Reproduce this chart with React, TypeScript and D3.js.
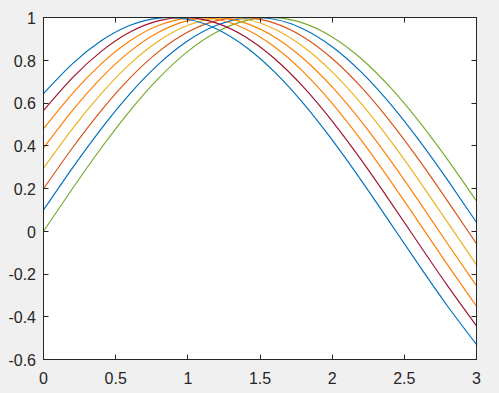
import React from "react";
import * as d3 from "d3";

const xValues = [0, 0.2, 0.4, 0.6, 0.8, 1.0, 1.2, 1.4, 1.6, 1.8, 2.0, 2.2, 2.4, 2.6, 2.8, 3.0];

const series0 = [0, 0.1987, 0.3894, 0.5646, 0.7174, 0.8415, 0.932, 0.9854, 0.9996, 0.9738, 0.9093, 0.8085, 0.6755, 0.5155, 0.335, 0.1411];
const series1 = [0.0998, 0.2955, 0.4794, 0.6442, 0.7833, 0.8912, 0.9636, 0.9975, 0.9917, 0.9463, 0.8632, 0.7457, 0.5985, 0.4274, 0.2392, 0.0416];
const series2 = [0.1987, 0.3894, 0.5646, 0.7174, 0.8415, 0.932, 0.9854, 0.9996, 0.9738, 0.9093, 0.8085, 0.6755, 0.5155, 0.335, 0.1411, -0.0584];
const series3 = [0.2955, 0.4794, 0.6442, 0.7833, 0.8912, 0.9636, 0.9975, 0.9917, 0.9463, 0.8632, 0.7457, 0.5985, 0.4274, 0.2392, 0.0416, -0.1577];
const series4 = [0.3894, 0.5646, 0.7174, 0.8415, 0.932, 0.9854, 0.9996, 0.9738, 0.9093, 0.8085, 0.6755, 0.5155, 0.335, 0.1411, -0.0584, -0.2555];
const series5 = [0.4794, 0.6442, 0.7833, 0.8912, 0.9636, 0.9975, 0.9917, 0.9463, 0.8632, 0.7457, 0.5985, 0.4274, 0.2392, 0.0416, -0.1577, -0.3508];
const series6 = [0.5646, 0.7174, 0.8415, 0.932, 0.9854, 0.9996, 0.9738, 0.9093, 0.8085, 0.6755, 0.5155, 0.335, 0.1411, -0.0584, -0.2555, -0.4425];
const series7 = [0.6442, 0.7833, 0.8912, 0.9636, 0.9975, 0.9917, 0.9463, 0.8632, 0.7457, 0.5985, 0.4274, 0.2392, 0.0416, -0.1577, -0.3508, -0.5298];

const allSeries = [series0, series1, series2, series3, series4, series5, series6, series7];
const seriesColors = ["#77AC30", "#0072BD", "#D95319", "#EDB120", "#FF8000", "#FF8000", "#A2142F", "#0072BD"];

const xTicks = [0, 0.5, 1, 1.5, 2, 2.5, 3];
const xTickLabels = ["0", "0.5", "1", "1.5", "2", "2.5", "3"];
const yTicks = [-0.6, -0.4, -0.2, 0, 0.2, 0.4, 0.6, 0.8, 1];
const yTickLabels = ["-0.6", "-0.4", "-0.2", "0", "0.2", "0.4", "0.6", "0.8", "1"];

const W = 499;
const H = 393;
const L = 43.5;
const R = 476.5;
const T = 17.5;
const B = 359.5;
const axisColor = "#262626";
const font = "Arial, 'Liberation Sans', Helvetica, sans-serif";

export default function App() {
  const x = d3.scaleLinear().domain([0, 3]).range([L, R]);
  const y = d3.scaleLinear().domain([-0.6, 1]).range([B, T]);
  const line = d3
    .line<number>()
    .x((_, i) => x(xValues[i]))
    .y((d) => y(d))
    .curve(d3.curveNatural);
  const tickLen = 5;

  return (
    <div style={{ position: "fixed", left: 0, top: 0, width: W, height: H }}>
      <svg width={W} height={H} style={{ display: "block", background: "#f0f0f0" }}>
        <rect x={L} y={T} width={R - L} height={B - T} fill="#ffffff" />
        <defs>
          <clipPath id="plotclip">
            <rect x={L} y={T - 1} width={R - L} height={B - T + 2} />
          </clipPath>
        </defs>
        <g clipPath="url(#plotclip)">
          {allSeries.map((s, k) => (
            <path key={k} d={line(s) || ""} fill="none" stroke={seriesColors[k]} strokeWidth={1.2} />
          ))}
        </g>
        <g stroke={axisColor} strokeWidth={1} fill="none">
          <rect x={L} y={T} width={R - L} height={B - T} />
          {xTicks.map((t, i) => {
            const px = Math.round(x(t) - 0.5) + 0.5;
            return (
              <g key={"xt" + i}>
                <line x1={px} x2={px} y1={B} y2={B - tickLen} />
                <line x1={px} x2={px} y1={T} y2={T + tickLen} />
              </g>
            );
          })}
          {yTicks.map((t, i) => {
            const py = Math.round(y(t) - 0.5) + 0.5;
            return (
              <g key={"yt" + i}>
                <line x1={L} x2={L + tickLen} y1={py} y2={py} />
                <line x1={R} x2={R - tickLen} y1={py} y2={py} />
              </g>
            );
          })}
        </g>
        <g fill={axisColor} fontFamily={font} fontSize={16}>
          {xTicks.map((t, i) => (
            <text key={"xl" + i} x={x(t)} y={B + 24.5} textAnchor="middle">
              {xTickLabels[i]}
            </text>
          ))}
          {yTicks.map((t, i) => (
            <text key={"yl" + i} x={L - 7.5} y={y(t) + 6.3} textAnchor="end">
              {yTickLabels[i]}
            </text>
          ))}
        </g>
      </svg>
    </div>
  );
}
